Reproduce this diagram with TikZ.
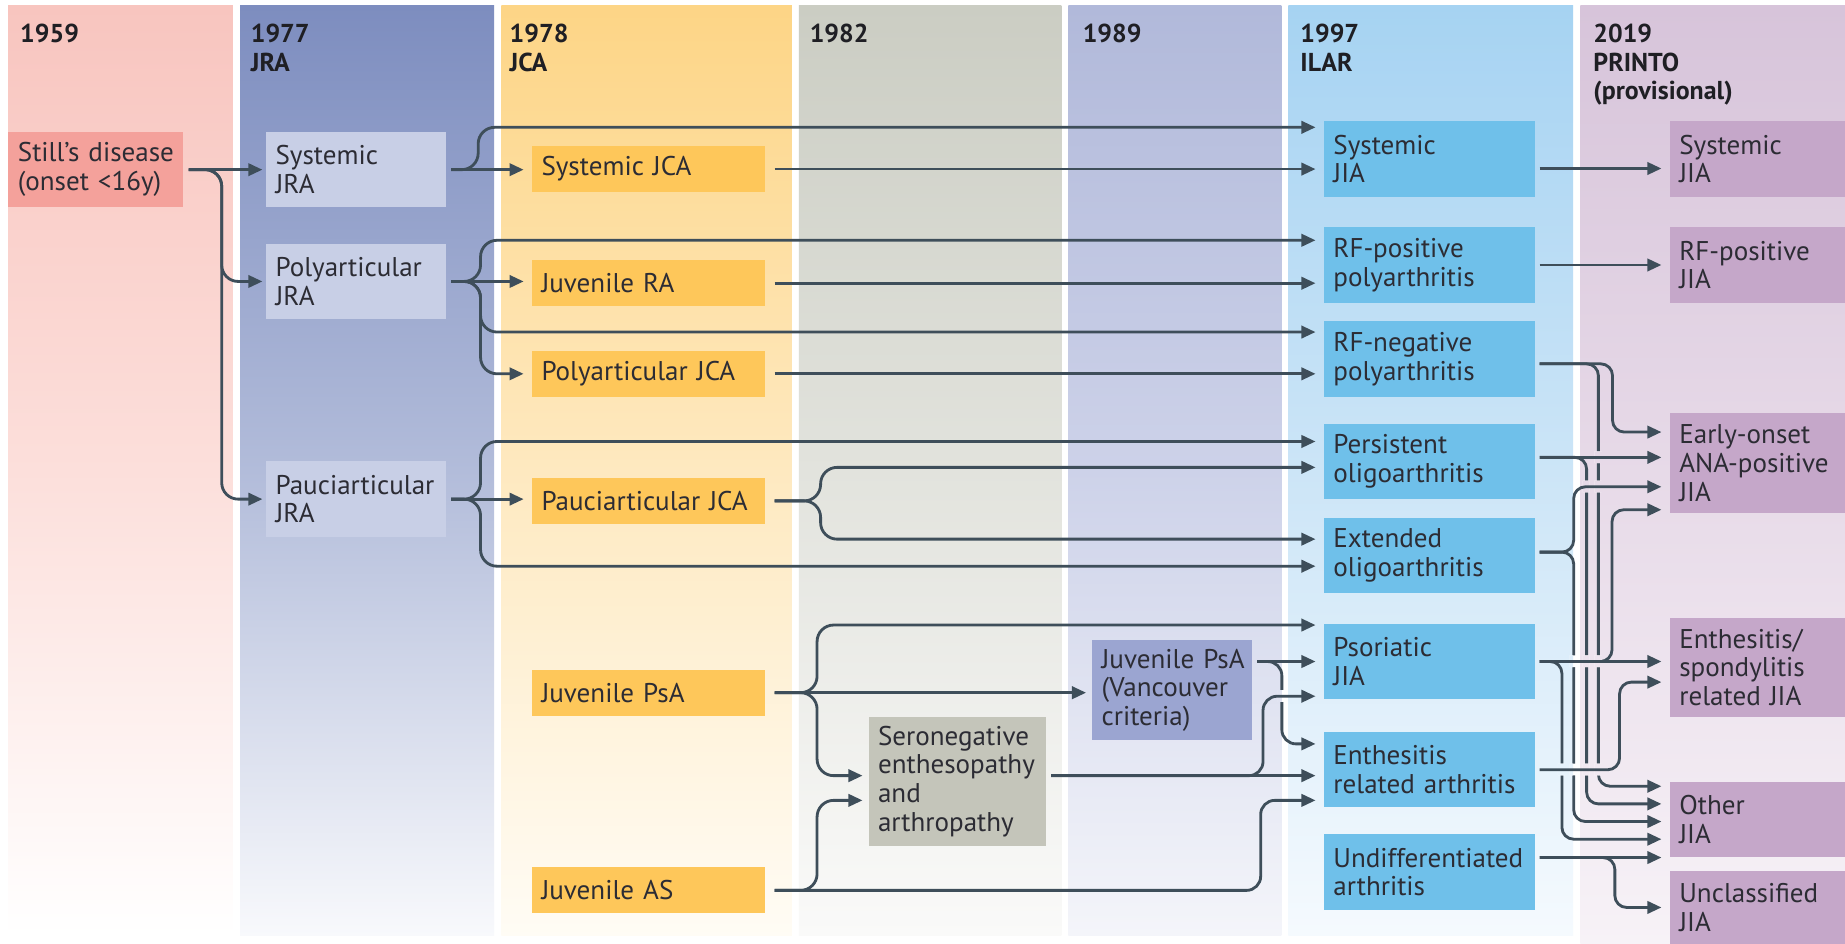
\documentclass[tikz,border=0pt]{standalone}
\usepackage{fontspec}
\setmainfont{PT Sans}
\usetikzlibrary{arrows.meta,calc}
\definecolor{lc}{HTML}{3E4E5A}
\definecolor{txt}{HTML}{2C2C34}
\definecolor{hdr}{HTML}{1F1F24}
\definecolor{stillc}{HTML}{F4A19B}
\definecolor{jrac}{HTML}{C8CFE6}
\definecolor{jcac}{HTML}{FEC75A}
\definecolor{seroc}{HTML}{C4C5BA}
\definecolor{vancc}{HTML}{9BA5D1}
\definecolor{ilarc}{HTML}{6FC0EA}
\definecolor{printoc}{HTML}{C5A7C9}
\definecolor{cAt}{HTML}{F8C5BF}\definecolor{cAm}{HTML}{FCDFDB}\definecolor{cAb}{HTML}{FFFFFF}
\definecolor{cBt}{HTML}{7D8DBF}\definecolor{cBm}{HTML}{B2BCDA}\definecolor{cBb}{HTML}{F8F9FC}
\definecolor{cCt}{HTML}{FDD586}\definecolor{cCm}{HTML}{FEE9C0}\definecolor{cCb}{HTML}{FFFCF5}
\definecolor{cDt}{HTML}{CBCDC3}\definecolor{cDm}{HTML}{E2E3DD}\definecolor{cDb}{HTML}{FAFAF9}
\definecolor{cEt}{HTML}{B1B9DA}\definecolor{cEm}{HTML}{CDD2E9}\definecolor{cEb}{HTML}{F4F5FA}
\definecolor{cFt}{HTML}{A6D3F2}\definecolor{cFm}{HTML}{CCE5F7}\definecolor{cFb}{HTML}{F5FAFE}
\definecolor{cGt}{HTML}{D7C4DA}\definecolor{cGm}{HTML}{E7DAE8}\definecolor{cGb}{HTML}{F7F2F7}
\newcommand\drawcols{%
  \shade[top color=cAt, bottom color=cAb, middle color=cAm] (7,5) rectangle (198,795);
  \shade[top color=cBt, bottom color=cBb, middle color=cBm] (204,5) rectangle (420,795);
  \shade[top color=cCt, bottom color=cCb, middle color=cCm] (426,5) rectangle (673,795);
  \shade[top color=cDt, bottom color=cDb, middle color=cDm] (679,5) rectangle (902,795);
  \shade[top color=cEt, bottom color=cEb, middle color=cEm] (908,5) rectangle (1089,795);
  \shade[top color=cFt, bottom color=cFb, middle color=cFm] (1095,5) rectangle (1337,795);
  \shade[top color=cGt, bottom color=cGb, middle color=cGm] (1343,5) rectangle (1568,802);
}
\begin{document}
\hyphenpenalty=10000 \exhyphenpenalty=10000
\begin{tikzpicture}[x=1pt,y=-1pt,
  bx/.style={fill=#1, anchor=north west, inner xsep=8pt, inner ysep=0pt, align=left, text=txt, font=\fontsize{23pt}{24.5pt}\selectfont},
  hd/.style={anchor=north west, inner sep=0pt, align=left, text=hdr, font=\fontsize{22pt}{24.5pt}\selectfont\bfseries},
  ln/.style={draw=lc, line width=2.4pt},
  ar/.style={ln, -{Triangle[length=12pt,width=10.5pt]}, shorten <=4pt, shorten >=7pt, rounded corners=14pt},
  arR/.style={ar, rounded corners=10pt},
  elbow/.style={to path={-- ++(#1,0) |- (\tikztotarget)}},
]
\useasboundingbox (0,0) rectangle (1568,802);
\fill[white] (0,0) rectangle (1568,802);
\drawcols

% headers
\node[hd] (h1959) at (17,20) {1959};
\node[hd] (h1977) at (213,20) {1977\\JRA};
\node[hd] (h1978) at (433,20) {1978\\JCA};
\node[hd] (h1982) at (688,20) {1982};
\node[hd] (h1989) at (920,20) {1989};
\node[hd] (h1997) at (1105,20) {1997\\ILAR};
\node[hd] (h2019) at (1354,20) {2019\\PRINTO\\(provisional)};

% boxes
\node[bx=stillc, text width=132pt, minimum height=64pt] (still) at (7,112) {\mbox{Still’s disease}\\\mbox{(onset <16y)}};
\node[bx=jrac, text width=137pt, minimum height=64pt] (sjra) at (226,112) {Systemic\\JRA};
\node[bx=jrac, text width=137pt, minimum height=64pt] (pjra) at (226,207) {Polyarticular\\JRA};
\node[bx=jrac, text width=137pt, minimum height=64pt] (pajra) at (226,392) {Pauciarticular\\JRA};
\node[bx=jcac, text width=182pt, minimum height=39pt] (sjca) at (452,124) {Systemic JCA};
\node[bx=jcac, text width=182pt, minimum height=39pt] (jra) at (452,221) {Juvenile RA};
\node[bx=jcac, text width=182pt, minimum height=39pt] (pjca) at (452,298) {Polyarticular JCA};
\node[bx=jcac, text width=182pt, minimum height=39pt] (pajca) at (452,406) {Pauciarticular JCA};
\node[bx=jcac, text width=182pt, minimum height=39pt] (jpsa) at (452,569) {Juvenile PsA};
\node[bx=jcac, text width=182pt, minimum height=39pt] (jas) at (452,737) {Juvenile AS};
\node[bx=seroc, text width=135pt, minimum height=110pt] (sero) at (738,609) {Seronegative\\enthesopathy\\and\\arthropathy};
\node[bx=vancc, text width=120pt, minimum height=85pt] (vanc) at (928,544) {\mbox{Juvenile PsA}\\(Vancouver\\criteria)};
\node[bx=ilarc, text width=163pt, minimum height=64pt] (sjia) at (1125,103) {Systemic\\JIA};
\node[bx=ilarc, text width=163pt, minimum height=64pt] (rfp) at (1125,193) {RF-positive\\polyarthritis};
\node[bx=ilarc, text width=163pt, minimum height=64pt] (rfn) at (1125,273) {RF-negative\\polyarthritis};
\node[bx=ilarc, text width=163pt, minimum height=64pt] (pers) at (1125,360) {Persistent\\oligoarthritis};
\node[bx=ilarc, text width=163pt, minimum height=64pt] (ext) at (1125,440) {Extended\\oligoarthritis};
\node[bx=ilarc, text width=163pt, minimum height=64pt] (psjia) at (1125,530) {Psoriatic\\JIA};
\node[bx=ilarc, text width=163pt, minimum height=64pt] (era) at (1125,622) {Enthesitis\\\mbox{related arthritis}};
\node[bx=ilarc, text width=163pt, minimum height=64pt] (und) at (1125,709) {Undifferentiated\\arthritis};
\node[bx=printoc, text width=133pt, minimum height=64pt] (psys) at (1419,103) {Systemic\\JIA};
\node[bx=printoc, text width=133pt, minimum height=64pt] (prf) at (1419,193) {RF-positive\\JIA};
\node[bx=printoc, text width=133pt, minimum height=85pt] (eoana) at (1419,351) {Early-onset\\ANA-positive\\JIA};
\node[bx=printoc, text width=133pt, minimum height=84pt] (ess) at (1419,525) {Enthesitis/\\spondylitis\\\mbox{related JIA}};
\node[bx=printoc, text width=133pt, minimum height=64pt] (other) at (1419,664) {Other\\JIA};
\node[bx=printoc, text width=133pt, minimum height=62pt] (uncl) at (1419,740) {Unclassified\\JIA};

% exit points
\coordinate (sjiaO) at ([yshift=-8pt]sjia.east);
\coordinate (rfnO) at ([yshift=-4pt]rfn.east);
\coordinate (persO) at ([yshift=3.5pt]pers.east);
\coordinate (extO) at ([yshift=3pt]ext.east);
\coordinate (undO) at ([yshift=12.4pt]und.east);
\coordinate (seroO) at ([yshift=5pt]sero.east);
\coordinate (vancO) at (vanc.east |- psjia.west);

% 1959 -> 1977
\draw[ar, shorten <=5pt, shorten >=3pt] (still.east) -- (sjra.west);
\draw[ar, shorten <=5pt, shorten >=3pt] (still.east) to[elbow=33] (pjra.west);
\draw[ar, shorten <=5pt, shorten >=3pt] (still.east) to[elbow=33] (pajra.west);
% 1977 -> later
\draw[ar] (sjra.east) -- (sjra.east -| sjca.west);
\draw[ar] (sjra.east) to[elbow=27] ([yshift=27pt]sjia.west);
\draw[ar] (pjra.east) -- (pjra.east -| jra.west);
\draw[ar] (pjra.east) to[elbow=29] ([yshift=21pt]rfp.west);
\draw[ar] (pjra.east) to[elbow=29] ([yshift=23pt]rfn.west);
\draw[ar] (pjra.east) to[elbow=29] (pjca.west);
\draw[ar] (pajra.east) -- (pajra.east -| pajca.west);
\draw[ar] (pajra.east) to[elbow=29] ([yshift=17pt]pers.west);
\draw[ar] (pajra.east) to[elbow=29] ([yshift=-9pt]ext.west);
% 1978 -> later
\draw[ar, shorten <=8pt] (sjca.east) -- (sjca.east -| sjia.west);
\draw[ar, shorten <=8pt] (jra.east) -- (jra.east -| rfp.west);
\draw[ar, shorten <=8pt] (pjca.east) -- (pjca.east -| rfn.west);
\draw[ar, shorten <=8pt] (pajca.east) to[elbow=47] ([yshift=-5pt]pers.west);
\draw[ar, shorten <=8pt] (pajca.east) to[elbow=47] ([yshift=14pt]ext.west);
\draw[ar, shorten <=8pt, shorten >=5pt] (jpsa.east) -- (jpsa.east -| vanc.west);
\draw[ar, shorten <=8pt] (jpsa.east) to[elbow=44] ([yshift=31pt]psjia.west);
\draw[ar, shorten <=8pt, shorten >=5pt] (jpsa.east) to[elbow=44] ([yshift=5pt]sero.west);
\draw[ar, shorten <=8pt, shorten >=5pt] (jas.east) to[elbow=44] ([yshift=-16pt]sero.west);
\draw[ar, shorten <=8pt, rounded corners=12pt] (jas.east) to[elbow=421] ([yshift=-26pt]era.west);
% 1982 / 1989 -> 1997
\draw[ar] (seroO) -- (seroO -| era.west);
\draw[ar] (vancO) -- (psjia.west);
\draw[ar, rounded corners=12pt] (vancO) to[elbow=25] ([yshift=22pt]era.west);
% 1997 -> 2019 (under)
\draw[ar] (sjiaO) -- (sjiaO -| psys.west);
\draw[ar] (rfp.east) -- (rfp.east -| prf.west);
\draw[arR] (rfnO) to[elbow=54] ([yshift=28pt]other.west);
\draw[arR] (rfnO) to[elbow=66] ([yshift=26.5pt]eoana.west);
\draw[arR] (persO) to[elbow=44] ([yshift=13pt]other.west);
\draw[arR] (extO) to[elbow=33] ([yshift=-2pt]other.west);
\draw[arR] (psjia.east) to[elbow=23] ([yshift=-17pt]other.west);
\draw[arR] (psjia.east) to[elbow=65.6] ([yshift=-39.5pt]eoana.west);
\draw[arR] (undO) -- (undO -| other.west);
\draw[arR] (undO) to[elbow=68] (uncl.west);

% gaps where lines pass over others
\begin{scope}
\clip (1355,383.5) rectangle (1361,393.5)
  (1355,408.5) rectangle (1361,418.5)
  (1345,408.5) rectangle (1351,418.5)
  (1334,557) rectangle (1340,567)
  (1345,557) rectangle (1351,567)
  (1355,557) rectangle (1361,567)
  (1324,649) rectangle (1330,659)
  (1334,649) rectangle (1340,659)
  (1345,649) rectangle (1351,659)
  (1355,649) rectangle (1361,659)
  (1086,586.5) rectangle (1092,596.5);
\fill[white] (0,0) rectangle (1568,802);
\drawcols
\end{scope}

% over
\draw[ar, rounded corners=12pt] (seroO) to[elbow=184] ([yshift=-29.5pt]psjia.west);
\draw[arR] (persO) -- (persO -| eoana.west);
\draw[arR] (extO) to[elbow=33] ([yshift=-20pt]eoana.west);
\draw[arR] (psjia.east) -- (psjia.east -| ess.west);
\draw[arR] (era.east) to[elbow=72] ([yshift=-12.5pt]ess.west);
\end{tikzpicture}
\end{document}
